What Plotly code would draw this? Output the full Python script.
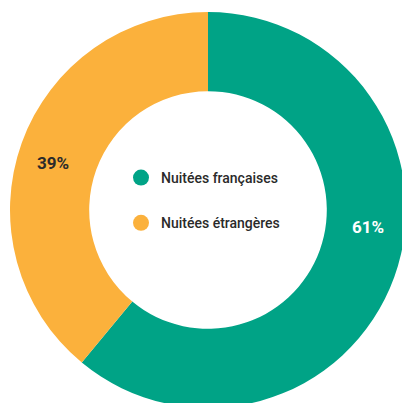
import plotly.graph_objects as go

categories = ["Nuitées françaises", "Nuitées étrangères"]
values = [61, 39]
pct_labels = ["61%", "39%"]
colors = ["#00A386", "#FBB13C"]

W, H = 420, 420
cx, cy, R = 208, 210, 198


def px(x):
    return x / W


def py(y):
    return 1 - y / H


fig = go.Figure()
fig.add_trace(go.Pie(
    labels=categories,
    values=values,
    hole=0.6,
    sort=False,
    direction="clockwise",
    rotation=0,
    marker=dict(colors=colors, line=dict(width=0)),
    textinfo="none",
    hoverinfo="label+percent",
    showlegend=False,
    domain=dict(x=[px(cx - R), px(cx + R)], y=[py(cy + R), py(cy - R)]),
))

for i, (cat, col) in enumerate(zip(categories, colors)):
    fig.add_trace(go.Scatter(
        x=[None], y=[None], mode="markers", name=cat,
        legendgroup=f"g{i}",
        marker=dict(size=16, color=col, symbol="circle"),
    ))

label_pos = [(368, 227, "white"), (53, 163, "#2B2B2B")]
for txt, (x, y, c) in zip(pct_labels, label_pos):
    fig.add_annotation(
        x=px(x), y=py(y), xref="paper", yref="paper", text=f"<b>{txt}</b>",
        showarrow=False, font=dict(family="Roboto", size=17, color=c),
        xanchor="center", yanchor="middle",
    )

fig.update_layout(
    width=W, height=H,
    margin=dict(l=0, r=0, t=0, b=0),
    paper_bgcolor="white", plot_bgcolor="white",
    xaxis=dict(visible=False), yaxis=dict(visible=False),
    legend=dict(
        x=px(121), y=py(162), xanchor="left", yanchor="top",
        font=dict(family="Roboto", size=14, color="#2A2A2A", weight=500),
        traceorder="grouped", tracegroupgap=24,
        bgcolor="rgba(0,0,0,0)", itemclick=False,
    ),
)

fig.write_html(
    "out.html",
    config={"displayModeBar": False},
    post_script="document.body.style.margin='0';document.body.style.overflow='hidden';",
)
